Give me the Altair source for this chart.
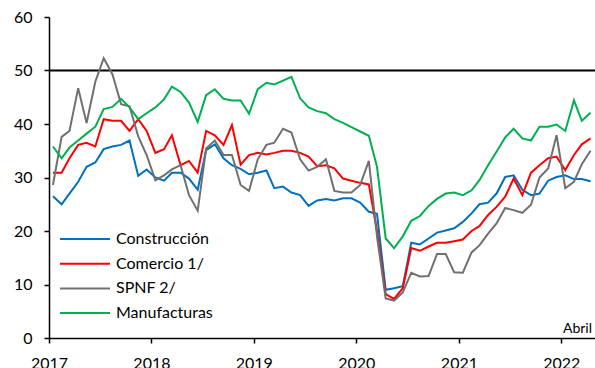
import altair as alt
import pandas as pd

# Monthly confidence indices, January 2017 - April 2022
meses = [f"{a}-{m:02d}-15" for a in range(2017, 2023) for m in range(1, 13)][:64]

construccion = [26.5, 25.0, 27.0, 29.2, 32.0, 32.8, 35.3, 35.8, 36.1, 36.9, 30.3, 31.5,
                30.0, 29.4, 30.9, 30.9, 29.8, 27.7, 35.1, 36.2, 33.6, 32.3, 31.6, 30.6,
                30.9, 31.3, 28.0, 28.3, 27.2, 26.7, 24.7, 25.7, 26.0, 25.7, 26.1, 26.1,
                25.3, 23.6, 23.2, 9.0, 9.3, 9.7, 17.8, 17.5, 18.6, 19.7, 20.1, 20.5,
                21.7, 23.3, 25.0, 25.3, 27.0, 30.1, 30.4, 27.7, 26.7, 27.0, 29.4, 30.1,
                30.4, 29.7, 29.7, 29.3]
comercio = [30.9, 30.9, 33.6, 36.1, 36.5, 35.8, 40.9, 40.6, 40.6, 38.7, 40.9, 38.7,
            34.6, 35.3, 37.9, 32.3, 33.1, 30.9, 38.7, 37.9, 36.1, 39.8, 32.4, 34.2,
            34.6, 34.3, 34.6, 35.0, 35.0, 34.6, 33.9, 32.1, 32.3, 31.7, 29.8, 29.4,
            29.0, 28.7, 20.0, 8.2, 7.3, 9.3, 16.8, 16.3, 17.1, 17.8, 17.8, 18.1,
            18.4, 20.0, 20.9, 23.0, 24.5, 26.4, 29.8, 26.7, 30.9, 32.3, 33.6, 33.9,
            31.4, 34.2, 36.2, 37.3]
spnf = [28.6, 37.6, 38.7, 46.7, 40.2, 47.9, 52.3, 49.3, 43.7, 43.3, 37.7, 34.2,
        29.5, 30.4, 31.5, 32.3, 26.7, 23.8, 35.4, 36.9, 34.2, 34.2, 28.6, 27.5,
        33.4, 36.1, 36.5, 39.1, 38.4, 33.4, 31.3, 32.0, 33.4, 27.5, 27.2, 27.2,
        28.6, 33.1, 19.0, 7.4, 7.0, 8.5, 12.2, 11.5, 11.6, 15.7, 15.7, 12.3,
        12.2, 16.0, 17.3, 19.5, 21.4, 24.3, 23.9, 23.4, 24.9, 30.0, 31.7, 37.9,
        28.0, 29.2, 32.5, 35.0]
manufacturas = [35.8, 33.6, 35.6, 36.9, 38.2, 39.5, 42.8, 43.2, 44.7, 43.1, 40.9, 42.0,
                43.1, 44.6, 47.0, 46.0, 44.0, 40.4, 45.4, 46.5, 44.7, 44.4, 44.4, 41.9,
                46.5, 47.7, 47.4, 48.1, 48.8, 44.8, 43.1, 42.4, 42.0, 40.9, 40.2, 39.4,
                38.6, 37.8, 32.0, 18.6, 16.8, 19.0, 21.9, 22.8, 24.7, 26.0, 27.0, 27.2,
                26.7, 27.6, 29.5, 32.3, 34.8, 37.5, 39.1, 37.3, 36.9, 39.5, 39.5, 39.9,
                38.7, 44.4, 40.6, 42.1]

series = ["Construcción", "Comercio 1/", "SPNF 2/", "Manufacturas"]
colores = ["#0070C0", "#FF0000", "#707070", "#00B050"]
valores = [construccion, comercio, spnf, manufacturas]
anios = [2017, 2018, 2019, 2020, 2021, 2022]
umbral = [50]

df = pd.concat(
    [pd.DataFrame({"fecha": meses, "valor": v, "serie": s}) for s, v in zip(series, valores)],
    ignore_index=True,
)

FONT = "Lato"

x_enc = alt.X(
    "fecha:T",
    scale=alt.Scale(
        type="utc",
        domain=[alt.DateTime(year=2017, month=1, date=1, utc=True),
                alt.DateTime(year=2022, month=5, date=1, utc=True)],
    ),
    axis=alt.Axis(
        values=[alt.DateTime(year=a, month=1, date=1, utc=True) for a in anios],
        format="%Y", formatType="utc", title=None, labelPadding=12,
        labelFlush=False, labelOverlap=False,
    ),
)
y_enc = alt.Y(
    "valor:Q",
    scale=alt.Scale(domain=[0, 60], nice=False),
    axis=alt.Axis(values=list(range(0, 61, 10)), title=None, labelPadding=12),
)

lineas = alt.Chart(df).mark_line(strokeWidth=2).encode(
    x=x_enc,
    y=y_enc,
    color=alt.Color(
        "serie:N",
        scale=alt.Scale(domain=series, range=colores),
        legend=alt.Legend(
            orient="none", legendX=10, legendY=214, title=None,
            symbolType="stroke", symbolSize=2500, symbolStrokeWidth=2,
            clipHeight=16, rowPadding=8.7, labelOffset=5, padding=0,
            labelFont=FONT, labelFontSize=16, labelColor="black",
        ),
    ),
    detail="serie:N",
)

regla = alt.Chart(pd.DataFrame({"y": umbral})).mark_rule(color="black", strokeWidth=2).encode(
    y="y:Q"
)

nota = alt.Chart(pd.DataFrame({"t": ["Abril"]})).mark_text(
    align="right", baseline="alphabetic", font=FONT, fontSize=14, color="black"
).encode(text="t:N", x=alt.value(543), y=alt.value(316))

chart = (
    alt.layer(regla, lineas, nota)
    .properties(
        width=546, height=321,
        padding={"left": 49, "top": 17, "right": 0, "bottom": 30},
        autosize="none",
    )
    .configure_view(stroke=None)
    .configure_axis(
        grid=False, domainColor="black", domainWidth=1.5, tickColor="black",
        tickWidth=1.5, tickSize=5, labelFont=FONT, labelFontSize=16, labelColor="black",
    )
)

chart.save("out.html", embed_options={"renderer": "svg", "actions": False})
